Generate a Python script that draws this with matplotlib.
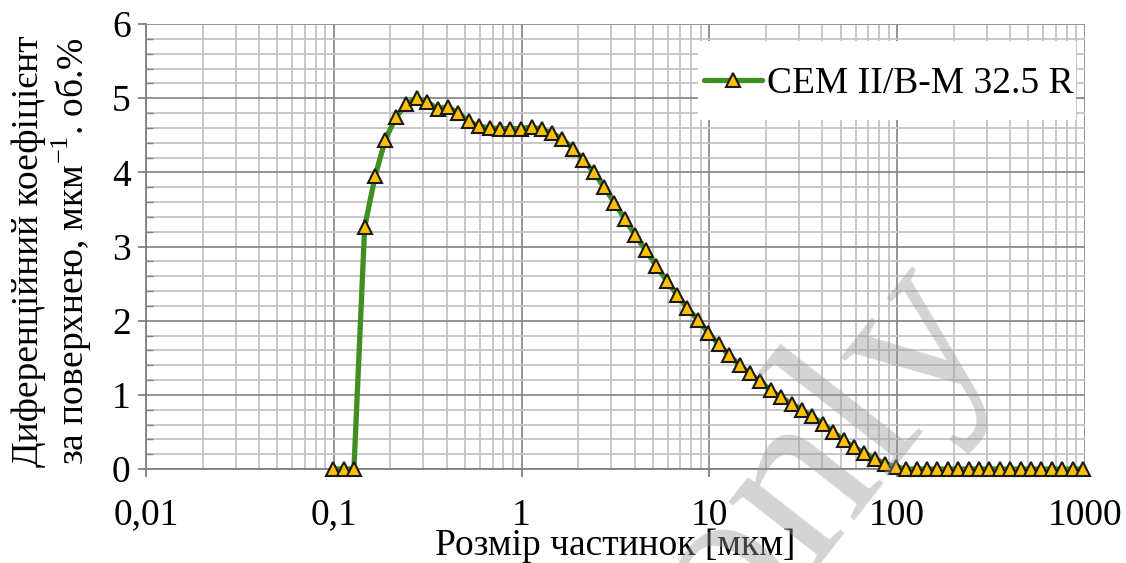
import matplotlib
matplotlib.use("Agg")
import matplotlib.pyplot as plt
from matplotlib.patches import Rectangle
from matplotlib.ticker import FixedLocator, FixedFormatter, MultipleLocator, LogLocator, NullFormatter

# Particle sizes (µm) and differential coefficient values
sizes = [0.0995, 0.113, 0.128, 0.146, 0.166, 0.188, 0.214, 0.243, 0.276, 0.314,
         0.357, 0.405, 0.46, 0.523, 0.594, 0.675, 0.767, 0.872, 0.991, 1.13,
         1.28, 1.45, 1.65, 1.88, 2.13, 2.42, 2.75, 3.12, 3.55, 4.03,
         4.58, 5.21, 5.92, 6.72, 7.64, 8.68, 9.86, 11.2, 12.7, 14.5,
         16.4, 18.7, 21.2, 24.1, 27.4, 31.1, 35.3, 40.1, 45.6, 51.8,
         58.9, 66.9, 76.0, 86.4, 98.1, 111, 127, 144, 163, 186,
         211, 240, 272, 310, 352, 400, 454, 516, 586, 666,
         756, 859, 976]
values = [0.00, 0.00, 0.00, 3.26, 3.95, 4.44, 4.74, 4.92, 5.00, 4.95,
          4.86, 4.88, 4.80, 4.69, 4.62, 4.60, 4.59, 4.59, 4.59, 4.61,
          4.58, 4.53, 4.45, 4.32, 4.17, 4.00, 3.80, 3.59, 3.37, 3.15,
          2.95, 2.74, 2.54, 2.35, 2.17, 2.01, 1.84, 1.68, 1.54, 1.40,
          1.29, 1.18, 1.06, 0.97, 0.88, 0.80, 0.71, 0.61, 0.50, 0.39,
          0.29, 0.22, 0.14, 0.07, 0.03, 0.00, 0.00, 0.00, 0.00, 0.00,
          0.00, 0.00, 0.00, 0.00, 0.00, 0.00, 0.00, 0.00, 0.00, 0.00,
          0.00, 0.00, 0.00]
series_name = "CEM II/B-M 32.5 R"
x_ticks = [0.01, 0.1, 1, 10, 100, 1000]
x_tick_labels = ["0,01", "0,1", "1", "10", "100", "1000"]
y_ticks = [0, 1, 2, 3, 4, 5, 6]
x_label = "Розмір частинок [мкм]"
y_label = "Диференційний коефіцієнт\nза поверхнею, мкм$^{-1}$. об.%"

plt.rcParams['font.family'] = ['Liberation Serif', 'DejaVu Serif']
plt.rcParams['mathtext.fontset'] = 'custom'
plt.rcParams['mathtext.rm'] = 'Liberation Serif'

FS = 27

fig = plt.figure(figsize=(11.26, 5.63), dpi=100)
ax = fig.add_axes([146/1126, 1-469/563, (1085-146)/1126, (469-24)/563])

ax.plot(sizes, values, color='#3F8F22', lw=3.8, marker='^', markersize=10.5,
        markerfacecolor='#FFC000', markeredgecolor='#1a1a1a', markeredgewidth=1.5,
        label=series_name, zorder=3, clip_on=False, solid_capstyle='round')

ax.set_xscale('log')
ax.set_xlim(0.01, 1000)
ax.set_ylim(0, 6)
ax.xaxis.set_major_locator(FixedLocator(x_ticks))
ax.xaxis.set_major_formatter(FixedFormatter(x_tick_labels))
ax.xaxis.set_minor_locator(LogLocator(base=10, subs=range(2, 10), numticks=20))
ax.xaxis.set_minor_formatter(NullFormatter())
ax.yaxis.set_major_locator(FixedLocator(y_ticks))
ax.yaxis.set_minor_locator(MultipleLocator(0.2))

ax.grid(which='major', color='#8a8a8a', lw=1.3, zorder=0)
ax.grid(which='minor', color='#c4c4c4', lw=1.3, zorder=0)
ax.set_axisbelow(True)

for s in ['top', 'right']:
    ax.spines[s].set_visible(False)
for s in ['left', 'bottom']:
    ax.spines[s].set_color('#808080')
    ax.spines[s].set_linewidth(1.3)

ax.tick_params(axis='both', which='major', labelsize=FS, color='#808080', width=1.3, length=6)
ax.tick_params(axis='y', which='major', pad=5)
ax.tick_params(axis='x', which='major', pad=15)
ax.tick_params(axis='y', which='minor', direction='in', length=5, color='#808080', width=1.0)
ax.tick_params(axis='x', which='minor', length=0)

ax.set_xlabel(x_label, fontsize=FS, labelpad=-3)
ax.set_ylabel(y_label, fontsize=FS, linespacing=1.1)
ax.yaxis.set_label_coords((94-146)/939, 0.49)

# white legend background box
ax.add_patch(Rectangle(((698-146)/939, (469-120)/445), (1076-698)/939, (120-41)/445,
                       transform=ax.transAxes, facecolor='white', edgecolor='none', zorder=4))
leg = ax.legend(loc='center right', bbox_to_anchor=((1074-146)/939, (469-84)/445), fontsize=FS,
                frameon=False, handlelength=1.55, handletextpad=0.15, borderpad=0,
                borderaxespad=0)
leg.set_zorder(5)

fig.text(822/1126, 1-458/563, "only", fontsize=172, rotation=52, color='#999999', alpha=0.42,
         ha='center', va='center', zorder=10)

fig.savefig("out.png", dpi=100)
